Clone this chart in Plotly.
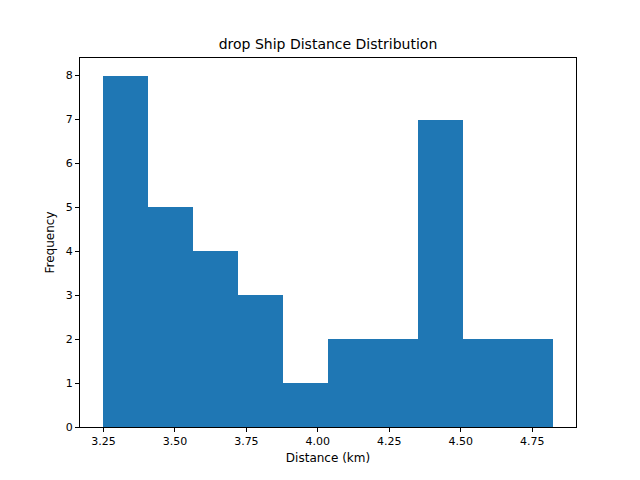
import plotly.graph_objects as go

bin_start = 3.247
bin_width = 0.1577
counts = [8, 5, 4, 3, 1, 2, 2, 7, 2, 2]
xticks = [3.25, 3.50, 3.75, 4.00, 4.25, 4.50, 4.75]

centers = [bin_start + bin_width * (i + 0.5) for i in range(len(counts))]

fig = go.Figure(go.Bar(x=centers, y=counts, width=[bin_width] * len(counts),
                       marker=dict(color="#1f77b4", line=dict(width=0))))
axis = dict(showgrid=False, zeroline=False, showline=True, linecolor="black", mirror=True,
            ticks="outside", ticklen=4, tickcolor="black", tickfont=dict(size=11, color="black"))
fig.update_layout(
    width=640, height=480, plot_bgcolor="white", paper_bgcolor="white",
    margin=dict(l=72, r=72, t=50, b=61),
    font=dict(family="DejaVu Sans", color="black"),
    title=dict(text="drop Ship Distance Distribution", x=0.5, xanchor="center", y=0.925, yanchor="middle",
               font=dict(size=14)),
    xaxis=dict(axis, range=[3.168, 4.903], tickvals=xticks, ticktext=[f"{v:.2f}" for v in xticks],
               title=dict(text="Distance (km)", font=dict(size=12), standoff=6)),
    yaxis=dict(axis, range=[0, 8.4], tickvals=list(range(9)),
               title=dict(text="Frequency", font=dict(size=12), standoff=8)),
    bargap=0,
)
fig.write_html("out.html")
